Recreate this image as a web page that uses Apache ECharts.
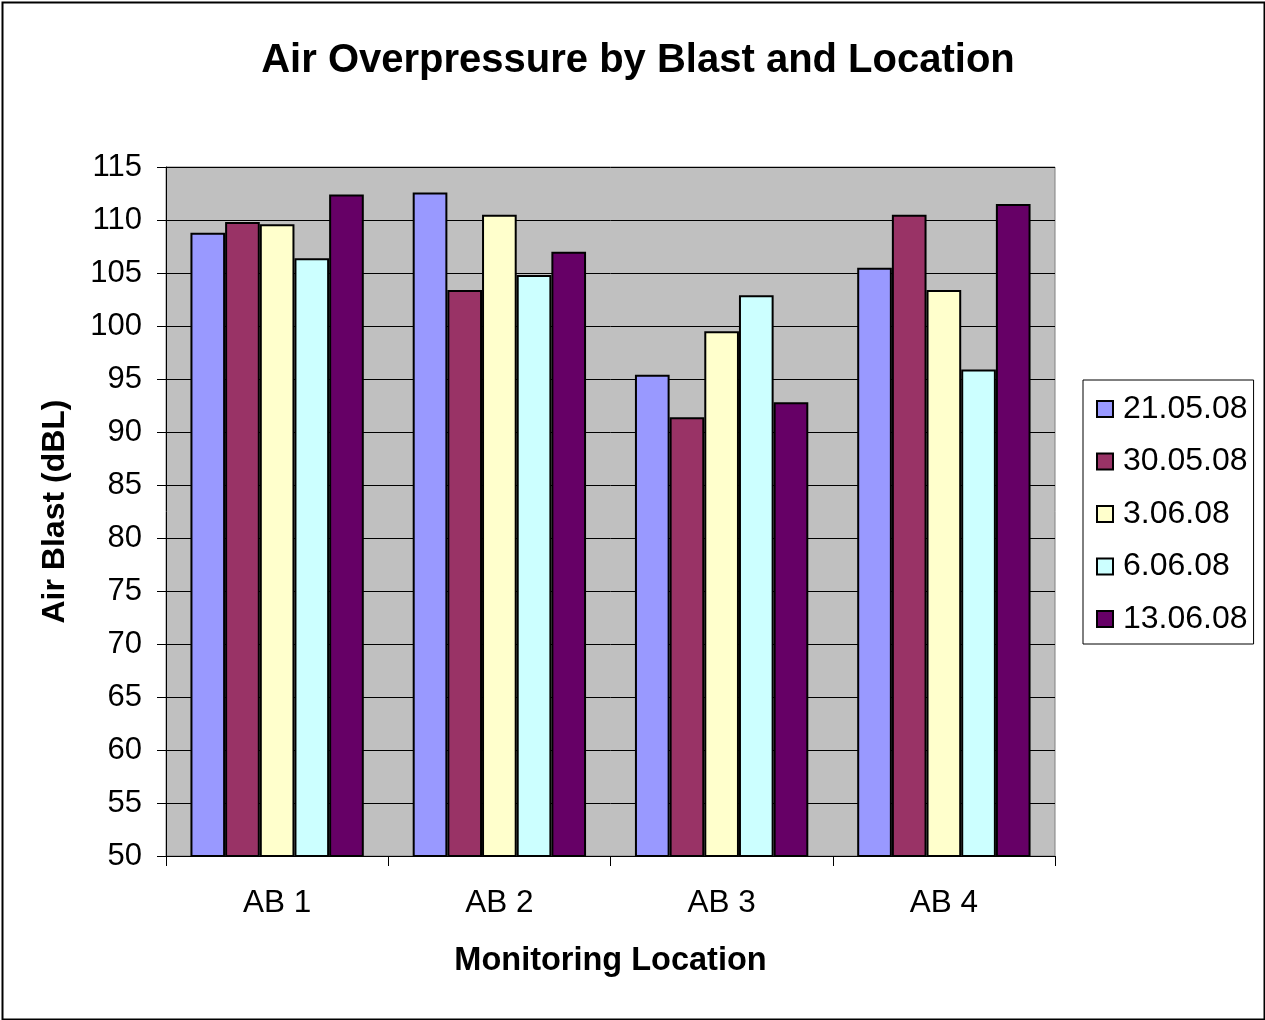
<!DOCTYPE html>
<html><head><meta charset="utf-8">
<script src="https://cdn.jsdelivr.net/npm/echarts@6/dist/echarts.min.js"></script>
<style>html,body{margin:0;padding:0;background:#fff}#c{width:1265px;height:1020px}</style>
</head><body><div id="c"></div>
<script>
const categories = ['AB 1', 'AB 2', 'AB 3', 'AB 4'];
const seriesNames = ['21.05.08', '30.05.08', '3.06.08', '6.06.08', '13.06.08'];
const s1 = [108.8, 112.6, 95.4, 105.5];
const s2 = [109.8, 103.4, 91.4, 110.5];
const s3 = [109.6, 110.5, 99.5, 103.4];
const s4 = [106.4, 104.8, 102.9, 95.9];
const s5 = [112.4, 107.0, 92.8, 111.5];
const seriesValues = [s1, s2, s3, s4, s5];
const colors = ['#9999FF', '#993366', '#FFFFCC', '#CCFFFF', '#660066'];

const FONT = '"Liberation Sans", Arial, sans-serif';
const chart = echarts.init(document.getElementById('c'));
chart.setOption({
  animation: false,
  textStyle: { fontFamily: FONT },
  title: {
    text: 'Air Overpressure by Blast and Location',
    left: 633, top: 36, textAlign: 'center',
    textStyle: { fontFamily: FONT, fontSize: 40, fontWeight: 'bold', color: '#000' }
  },
  legend: {
    orient: 'vertical', left: 1083, top: 380,
    padding: [13, 6, 9, 13],
    itemGap: 20.5, itemWidth: 16, itemHeight: 16,
    borderColor: '#000', borderWidth: 1,
    textStyle: { fontFamily: FONT, fontSize: 32, color: '#000', padding: [0, 0, 0, 5] },
    data: seriesNames.map(n => ({ name: n, icon: 'rect' }))
  },
  grid: { left: 166, right: 210, top: 167, bottom: 164, show: true, backgroundColor: '#C0C0C0', borderColor: '#808080', borderWidth: 1 },
  xAxis: {
    type: 'category', data: categories,
    name: 'Monitoring Location', nameLocation: 'middle', nameGap: 89,
    nameTextStyle: { fontFamily: FONT, fontSize: 32.5, fontWeight: 'bold', color: '#000' },
    axisLine: { lineStyle: { color: '#000', width: 1 } },
    axisTick: { show: true, length: 10, lineStyle: { color: '#000' } },
    axisLabel: { fontFamily: FONT, fontSize: 31.5, color: '#000', margin: 31 }
  },
  yAxis: {
    type: 'value', min: 50, max: 115, interval: 5,
    name: 'Air Blast (dBL)', nameLocation: 'middle', nameGap: 95,
    nameTextStyle: { fontFamily: FONT, fontSize: 32, fontWeight: 'bold', color: '#000' },
    axisLine: { show: true, lineStyle: { color: '#000', width: 1 } },
    axisTick: { show: true, length: 9, lineStyle: { color: '#000' } },
    axisLabel: { fontFamily: FONT, fontSize: 31, color: '#000', margin: 24 },
    splitLine: { lineStyle: { color: '#000', width: 1 } }
  },
  series: seriesNames.map((n, i) => ({
    name: n, type: 'bar', data: seriesValues[i],
    barGap: '0%', barCategoryGap: '22%',
    itemStyle: { color: colors[i], borderColor: '#000', borderWidth: 2 }
  })),
  graphic: [{
    type: 'rect', left: 0, top: 0,
    shape: { x: 1, y: 1, width: 1262, height: 1017 },
    style: { fill: 'none', stroke: '#000', lineWidth: 2 }, silent: true
  }]
});
</script></body></html>
